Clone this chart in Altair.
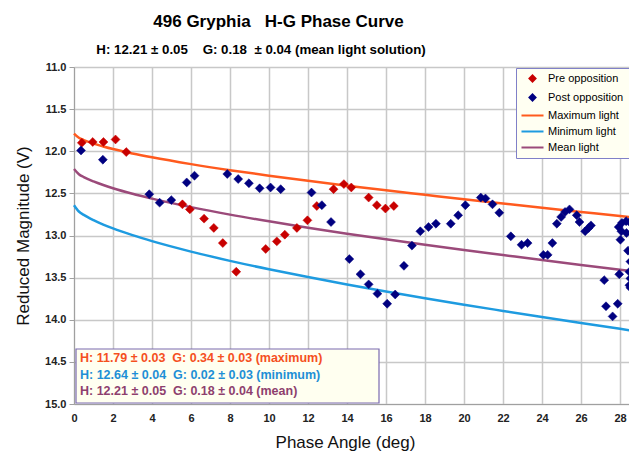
import altair as alt
import pandas as pd

# ---------------- data ----------------
pre_phase = [0.40, 0.96, 1.51, 2.13, 2.68, 5.56, 5.94, 6.67, 7.17, 7.63, 8.32, 9.83,
             10.40, 10.81, 11.43, 11.97, 12.45, 13.31, 13.84, 14.22, 15.11, 15.53, 15.97, 16.40]
pre_mag = [11.90, 11.89, 11.89, 11.86, 12.01, 12.63, 12.69, 12.80, 12.91, 13.09, 13.43, 13.16,
           13.07, 12.99, 12.91, 12.82, 12.65, 12.45, 12.39, 12.43, 12.55, 12.64, 12.68, 12.65]

post_phase = [0.36, 1.48, 3.86, 4.39, 4.99, 5.78, 6.18, 7.86, 8.42, 8.97, 9.52, 10.08, 10.60,
              12.18, 12.71, 13.18, 14.12, 14.69, 15.11, 15.56, 16.06, 16.47, 16.92, 17.33, 17.76,
              18.18, 18.56, 19.32, 19.70, 20.07, 20.86, 21.10, 21.46, 21.81, 22.40, 22.95, 23.26,
              24.07, 24.29, 24.53, 24.76, 24.98, 25.18, 25.41, 25.78, 25.92, 26.21, 26.39, 26.51,
              27.19, 27.28, 27.62, 27.88, 27.96, 27.93, 28.10, 28.31, 28.48, 28.07, 28.33, 28.02,
              28.41, 28.53, 28.48, 28.53, 28.48, 28.53]
post_mag = [11.99, 12.10, 12.51, 12.61, 12.58, 12.37, 12.29, 12.27, 12.33, 12.38, 12.44, 12.43, 12.45,
            12.49, 12.64, 12.84, 13.28, 13.46, 13.58, 13.69, 13.81, 13.70, 13.36, 13.12, 12.95,
            12.90, 12.86, 12.86, 12.76, 12.64, 12.55, 12.56, 12.63, 12.73, 13.01, 13.11, 13.09,
            13.23, 13.23, 13.09, 12.86, 12.78, 12.72, 12.69, 12.76, 12.84, 12.95, 12.91, 12.88,
            13.53, 13.84, 13.96, 13.81, 13.46, 12.90, 12.85, 12.83, 12.84, 12.95, 12.97, 13.05,
            13.18, 13.31, 13.43, 13.51, 13.59, 13.62]

curve_phase = [0, 0.25, 0.5, 1, 1.5, 2, 3, 4, 6, 8, 10, 12, 14, 16, 18, 20, 22, 24, 26, 28, 28.85]
max_mag = [11.79, 11.840, 11.867, 11.909, 11.943, 11.974, 12.026, 12.072, 12.153, 12.225, 12.290,
           12.351, 12.409, 12.464, 12.517, 12.570, 12.620, 12.671, 12.720, 12.769, 12.790]
min_mag = [12.64, 12.715, 12.755, 12.818, 12.870, 12.916, 12.996, 13.067, 13.191, 13.301, 13.401,
           13.493, 13.581, 13.664, 13.744, 13.821, 13.895, 13.968, 14.039, 14.108, 14.137]
mean_mag = [12.21, 12.272, 12.306, 12.358, 12.401, 12.439, 12.505, 12.562, 12.663, 12.752, 12.832,
            12.907, 12.978, 13.045, 13.110, 13.172, 13.232, 13.292, 13.350, 13.406, 13.430]

series_names = ["Pre opposition", "Post opposition", "Maximum light", "Minimum light", "Mean light"]
series_colors = ["#C80000", "#000080", "#FF5A1E", "#1E9BE0", "#9B4A7A"]
LINE_GLYPH = "M-3.67,0L3.67,0"
series_shapes = ["diamond", "diamond", LINE_GLYPH, LINE_GLYPH, LINE_GLYPH]

x_ticks = list(range(0, 29, 2))
y_ticks = [11.0, 11.5, 12.0, 12.5, 13.0, 13.5, 14.0, 14.5, 15.0]

title_text = "496 Gryphia\u00a0\u00a0\u00a0H-G Phase Curve"
subtitle_text = "H: 12.21 \u00b1 0.05\u00a0\u00a0\u00a0\u00a0G: 0.18\u00a0\u00a0\u00b1 0.04 (mean light solution)"

box_lines = ["H: 11.79 \u00b1 0.03\u00a0\u00a0G: 0.34 \u00b1 0.03 (maximum)",
             "H: 12.64 \u00b1 0.04\u00a0\u00a0G: 0.02 \u00b1 0.03 (minimum)",
             "H: 12.21 \u00b1 0.05\u00a0\u00a0G: 0.18 \u00b1 0.04 (mean)"]
box_colors = ["#F5501E", "#1E8FD6", "#8E3F6E"]

# ---------------- tables ----------------
pts = pd.DataFrame({
    "phase": pre_phase + post_phase,
    "mag": pre_mag + post_mag,
    "series": ["Pre opposition"] * len(pre_phase) + ["Post opposition"] * len(post_phase),
})
curves = pd.DataFrame({
    "phase": curve_phase * 3,
    "mag": max_mag + min_mag + mean_mag,
    "curve": ["Maximum light"] * len(curve_phase) + ["Minimum light"] * len(curve_phase)
             + ["Mean light"] * len(curve_phase),
})

FONT = "Liberation Sans"

x_enc = alt.X("phase:Q",
              scale=alt.Scale(domain=[0, 28.46], nice=False, zero=False),
              axis=alt.Axis(values=x_ticks, title="Phase Angle (deg)", format="d",
                            labelFont=FONT, labelFontSize=11, labelFontWeight="bold",
                            labelColor="#222222", ticks=False, labelPadding=8, labelFlush=False,
                            titleFont=FONT, titleFontSize=17, titleFontWeight="normal",
                            titleColor="#111111", titlePadding=11, titleX=271,
                            domainColor="#A0A0A0", gridColor="#C8C8C8", gridWidth=1.5))
y_enc = alt.Y("mag:Q",
              scale=alt.Scale(domain=[11, 15], reverse=True, nice=False, zero=False),
              axis=alt.Axis(values=y_ticks, format=".1f", title="Reduced Magnitude (V)",
                            labelFont=FONT, labelFontSize=11, labelFontWeight="bold",
                            labelColor="#222222", tickSize=5, tickColor="#A0A0A0",
                            labelPadding=3, labelFlush=False,
                            titleFont=FONT, titleFontSize=17, titleFontWeight="normal",
                            titleColor="#111111", titlePadding=12,
                            domainColor="#A0A0A0", gridColor="#C8C8C8", gridWidth=1.5))

lines = alt.Chart(curves).mark_line(strokeWidth=2.5, interpolate="monotone").encode(
    x=x_enc, y=y_enc,
    color=alt.Color("curve:N", scale=alt.Scale(domain=series_names[2:], range=series_colors[2:]),
                    legend=None),
)

leg = alt.Legend(title=None, orient="none", legendX=442, legendY=1,
                 fillColor="#FFFFF2", strokeColor="#8080C8", padding=5,
                 labelFont=FONT, labelFontSize=11, labelColor="#000000",
                 symbolStrokeWidth=2, symbolSize=36, symbolOffset=6,
                 rowPadding=4, labelOffset=10)

points = alt.Chart(pts).mark_point(filled=True, opacity=1, size=80, strokeWidth=0.5).encode(
    x=x_enc, y=y_enc,
    fill=alt.Fill("series:N", scale=alt.Scale(domain=series_names, range=series_colors), legend=leg),
    stroke=alt.Stroke("series:N", scale=alt.Scale(domain=series_names, range=series_colors), legend=leg),
    shape=alt.Shape("series:N", scale=alt.Scale(domain=series_names, range=series_shapes), legend=leg),
)

one = pd.DataFrame({"k": [0]})
box = alt.Chart(one).mark_rect(fill="#FFFFF0", stroke="#7B6BB0", strokeWidth=1.2).encode(
    x=alt.value(2), x2=alt.value(305), y=alt.value(282), y2=alt.value(336))

texts = []
for i, (t, c) in enumerate(zip(box_lines, box_colors)):
    texts.append(alt.Chart(one).mark_text(text=t, color=c, font=FONT, fontSize=12.5,
                                          fontWeight="bold", align="left", baseline="middle")
                 .encode(x=alt.value(6), y=alt.value(291 + i * 16.5)))

subtitle = alt.Chart(one).mark_text(text=subtitle_text, color="#000000", font=FONT, fontSize=13.3,
                                    fontWeight="bold", align="center", baseline="alphabetic").encode(
    x=alt.value(187), y=alt.value(-13))

chart = alt.layer(lines, points, box, *texts, subtitle).properties(
    width=555, height=337,
    autosize=alt.AutoSizeParams(type="none"),
    padding={"left": 66, "top": 59, "right": 0, "bottom": 48},
    title=alt.TitleParams(
        text=title_text,
        font=FONT, fontSize=17, fontWeight="bold", color="#000000",
        anchor="middle", dx=-73, offset=12,
    ),
).configure_view(strokeWidth=0).configure(background="white")

chart.save("out.html", embed_options={"renderer": "svg", "actions": False})
